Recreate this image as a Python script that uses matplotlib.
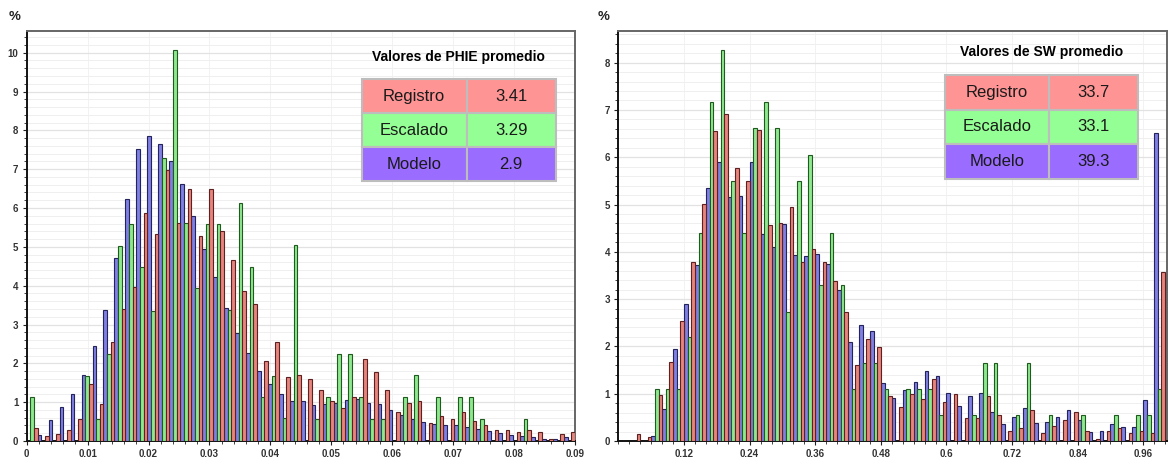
import numpy as np
import matplotlib.pyplot as plt
from matplotlib.ticker import MultipleLocator

plt.rcParams['font.family'] = ['Liberation Sans', 'DejaVu Sans']

# PHIE histogram (% per bin), 50 bins of 0.0018 starting at 0
phie_bin = 0.0018
phie_modelo = [0, 0.16, 0.53, 0.88, 1.22, 1.70, 2.45, 3.38, 4.72, 6.22,
               7.51, 7.86, 7.65, 7.21, 6.62, 5.79, 4.94, 4.23, 3.43, 2.78,
               2.27, 1.80, 1.46, 1.20, 1.03, 1.03, 0.92, 0.96, 0.98, 1.05,
               1.07, 0.99, 0.96, 0.79, 0.68, 0.56, 0.49, 0.45, 0.40, 0.40,
               0.36, 0.31, 0.26, 0.21, 0.16, 0.12, 0.10, 0.06, 0.06, 0.09]
phie_escalado = [1.13, 0, 0, 0, 0, 1.68, 0.57, 2.25, 5.03, 5.60,
                 4.48, 3.35, 7.28, 10.07, 5.62, 3.93, 5.60, 5.60, 3.37, 6.14,
                 4.48, 1.13, 1.68, 0.58, 5.04, 0, 0.56, 1.13, 2.25, 2.25,
                 1.13, 0.56, 0.56, 0, 1.13, 1.69, 0, 1.13, 0, 1.13,
                 1.13, 0.56, 0, 0, 0, 0.56, 0, 0, 0, 0]
phie_registro = [0.34, 0.12, 0.18, 0.29, 0.57, 1.48, 0.96, 2.55, 3.40, 3.97,
                 5.86, 5.34, 6.98, 5.62, 6.48, 5.28, 6.48, 5.40, 4.66, 3.87,
                 3.52, 2.05, 2.55, 1.65, 1.71, 1.59, 1.32, 1.02, 0.86, 1.13,
                 2.10, 1.78, 1.32, 0.75, 0.98, 1.03, 0.46, 0.64, 0.56, 0.75,
                 0.52, 0.40, 0.29, 0.29, 0.24, 0.29, 0.24, 0.06, 0.19, 0.23]

# SW histogram (% per bin), 50 bins of 0.02 starting at 0
sw_bin = 0.02
sw_modelo = [0, 0, 0, 0.10, 0.68, 1.94, 2.89, 3.72, 5.36, 5.91,
             5.15, 5.18, 5.89, 4.38, 4.11, 4.59, 3.93, 3.92, 3.95, 3.75,
             3.19, 2.09, 2.45, 2.32, 1.22, 0.90, 1.08, 1.24, 1.47, 1.37,
             1.01, 0.74, 0.96, 1.02, 0.62, 0.35, 0.50, 0.69, 0.39, 0.41,
             0.51, 0.66, 0.44, 0.18, 0.22, 0.36, 0.29, 0.30, 0.87, 6.51]
sw_escalado = [0, 0, 0, 1.09, 1.09, 1.09, 2.20, 4.40, 7.16, 8.27,
               5.50, 4.40, 6.61, 7.16, 6.61, 2.73, 5.50, 6.05, 3.30, 4.40,
               3.29, 1.09, 1.64, 1.64, 1.09, 0, 1.09, 1.09, 1.09, 0.54,
               0, 0, 0.54, 1.64, 1.64, 0, 0.54, 1.64, 0, 0.54,
               0, 0, 0.54, 0, 0, 0.54, 0, 0.54, 0.54, 1.09]
sw_registro = [0, 0.14, 0.085, 0.97, 1.66, 2.54, 3.78, 5.01, 6.56, 6.91,
               5.78, 5.50, 6.57, 4.57, 4.62, 4.95, 3.78, 4.06, 3.78, 3.39,
               2.72, 1.60, 2.15, 1.99, 0.95, 0.71, 0.99, 0.89, 1.32, 0.83,
               0.99, 0.48, 0.48, 0.95, 0.54, 0.22, 0.27, 0.66, 0.16, 0.32,
               0.44, 0.61, 0.22, 0.04, 0.22, 0.27, 0.16, 0.22, 0.16, 3.57]

row_names = ['Registro', 'Escalado', 'Modelo']
phie_means = ['3.41', '3.29', '2.9']
sw_means = ['33.7', '33.1', '39.3']

phie_ticks = [0, 0.01, 0.02, 0.03, 0.04, 0.05, 0.06, 0.07, 0.08, 0.09]
phie_ticklabels = ['0', '0.01', '0.02', '0.03', '0.04', '0.05', '0.06', '0.07', '0.08', '0.09']
sw_ticks = [0.12, 0.24, 0.36, 0.48, 0.6, 0.72, 0.84, 0.96]
sw_ticklabels = ['0.12', '0.24', '0.36', '0.48', '0.6', '0.72', '0.84', '0.96']

# (fill, edge) per series, drawn in order modelo, escalado, registro
series_colors = [('#7f80e2', '#23235e'), ('#8fe88f', '#1f5a1f'), ('#e6857d', '#5e2020')]
cell_colors = ['#ff9494', '#94ff94', '#9a6cff']


def draw_panel(ax, bw, series, xlim, ylim, ticks, ticklabels, xminor, title, means, pct_x):
    n = len(series[0])
    left = np.arange(n) * bw
    for i, (vals, (fc, ec)) in enumerate(zip(series, series_colors)):
        ax.bar(left + i * bw / 3, vals, width=bw / 3, align='edge',
               color=fc, edgecolor=ec, linewidth=0.8, zorder=3)
    ax.set_xlim(*xlim)
    ax.set_ylim(*ylim)
    ax.set_xticks(ticks)
    ax.set_xticklabels(ticklabels)
    ax.xaxis.set_minor_locator(MultipleLocator(xminor))
    ax.yaxis.set_major_locator(MultipleLocator(1))
    ax.yaxis.set_minor_locator(MultipleLocator(0.2))
    ax.grid(True, which='major', axis='y', color='#e2e2e2', linewidth=0.9, zorder=0)
    ax.grid(True, which='minor', axis='y', color='#efefef', linewidth=0.7, zorder=0)
    ax.grid(True, which='major', axis='x', color='#f2f2f2', linewidth=0.7, zorder=0)
    ax.set_axisbelow(True)
    ax.tick_params(which='major', length=3, labelsize=7, colors='#222222', pad=3)
    ax.tick_params(which='minor', length=2, colors='#222222')
    for lab in ax.get_xticklabels() + ax.get_yticklabels():
        lab.set_fontweight('bold')
        lab.set_color('#333333')
    for side in ['left', 'bottom']:
        ax.spines[side].set_color('#111111')
        ax.spines[side].set_linewidth(1.4)
    for side in ['top', 'right']:
        ax.spines[side].set_color('#666666')
        ax.spines[side].set_linewidth(1.4)
    ax.text(pct_x, 1.034, '%', transform=ax.transAxes, fontsize=9.5,
            fontweight='bold', ha='center', va='center', color='#222222')

    x0, y0, w, h = title[1]
    ax.text(x0 + w / 2, y0 + h + 0.055, title[0], transform=ax.transAxes,
            fontsize=10, fontweight='bold', ha='center', va='center', zorder=6)
    tab = ax.table(cellText=[[r, m] for r, m in zip(row_names, means)],
                   cellColours=[[c, c] for c in cell_colors],
                   cellLoc='center', colWidths=[0.54, 0.46],
                   bbox=[x0, y0, w, h], zorder=6)
    tab.auto_set_font_size(False)
    for cell in tab.get_celld().values():
        cell.set_edgecolor('#bdbdbd')
        cell.set_linewidth(1.5)
        cell.get_text().set_fontsize(12)
        cell.get_text().set_color('#1a1a1a')


fig = plt.figure(figsize=(11.72, 4.61), dpi=100)
ax1 = fig.add_axes([0.0228, 0.0434, 0.4678, 0.8894])
ax2 = fig.add_axes([0.5277, 0.0434, 0.4683, 0.8894])

draw_panel(ax1, phie_bin, [phie_modelo, phie_escalado, phie_registro],
           (0, 0.0896), (0, 10.56), phie_ticks, phie_ticklabels, 0.002,
           ('Valores de PHIE promedio', (0.611, 0.634, 0.354, 0.248)), phie_means, -0.023)
draw_panel(ax2, sw_bin, [sw_modelo, sw_escalado, sw_registro],
           (0, 1.004), (0, 8.67), sw_ticks, sw_ticklabels, 0.02,
           ('Valores de SW promedio', (0.595, 0.639, 0.352, 0.254)), sw_means, -0.028)

fig.savefig('out.png', dpi=100)
